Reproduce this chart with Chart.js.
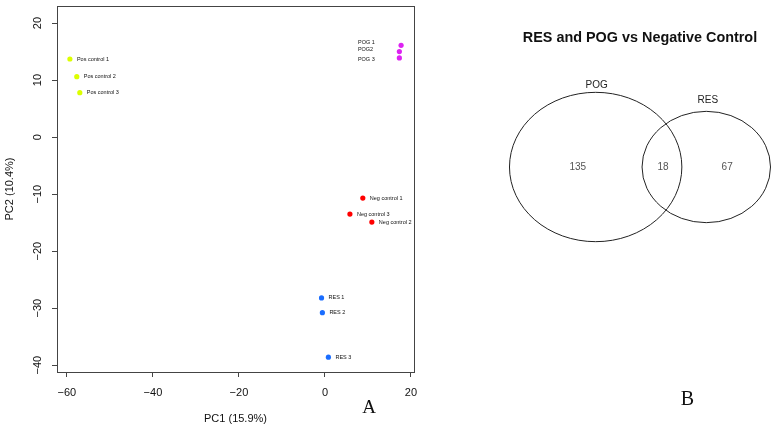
<!DOCTYPE html>
<html>
<head>
<meta charset="utf-8">
<script src="https://cdn.jsdelivr.net/npm/chart.js@4.4.1/dist/chart.umd.min.js"></script>
<style>
  html, body { margin: 0; padding: 0; background: #fff; }
  #wrap { position: relative; width: 775px; height: 430px; }
  #pca { position: absolute; left: 0; top: 0; }
  #venn { position: absolute; left: 460px; top: 0; }
</style>
</head>
<body>
<div id="wrap">
  <canvas id="pca" width="460" height="430"></canvas>
  <canvas id="venn" width="315" height="430"></canvas>
</div>
<script>
// Panel A: PCA scores
const posLabels = ['Pos control 1', 'Pos control 2', 'Pos control 3'];
const posPC1 = [-59.3, -57.7, -57.0];
const posPC2 = [13.7, 10.6, 7.8];

const pogLabels = ['POG 1', 'POG2', 'POG 3'];
const pogPC1 = [17.7, 17.3, 17.3];
const pogPC2 = [16.1, 15.0, 13.9];

const negLabels = ['Neg control 1', 'Neg control 2', 'Neg control 3'];
const negPC1 = [8.8, 10.9, 5.8];
const negPC2 = [-10.7, -14.9, -13.5];

const resLabels = ['RES 1', 'RES 2', 'RES 3'];
const resPC1 = [-0.8, -0.6, 0.8];
const resPC2 = [-28.2, -30.8, -38.6];

const xTicks = [-60, -40, -20, 0, 20];
const yTicks = [-40, -30, -20, -10, 0, 10, 20];

// Panel B: Venn counts
const vennTitle = 'RES and POG vs Negative Control';
const vennSets = ['POG', 'RES'];
const vennCounts = [135, 18, 67];  // POG only, both, RES only

Chart.defaults.font.family = '"Liberation Sans", Arial, sans-serif';
Chart.defaults.color = '#111';

const fmt = v => v < 0 ? '\u2212' + Math.abs(v) : String(v);

function group(names, xs, ys, color, offsets) {
  return {
    data: xs.map((x, i) => ({ x: x, y: ys[i] })),
    pointNames: names,
    labelOffsets: offsets,
    backgroundColor: color,
    pointRadius: 2.6,
    pointBorderWidth: 0
  };
}

// sample names next to each point
const pointLabels = {
  id: 'pointLabels',
  afterDatasetsDraw(chart) {
    const ctx = chart.ctx;
    ctx.save();
    ctx.font = '5.5px "Liberation Sans", Arial, sans-serif';
    ctx.fillStyle = '#111';
    ctx.textBaseline = 'middle';
    chart.data.datasets.forEach((ds, i) => {
      chart.getDatasetMeta(i).data.forEach((pt, j) => {
        const off = (ds.labelOffsets && ds.labelOffsets[j]) || [7, 0];
        ctx.fillText(ds.pointNames[j], pt.x + off[0], pt.y + off[1]);
      });
    });
    ctx.restore();
  }
};

// R-style box, rotated y tick labels and panel letter
const frame = {
  id: 'frame',
  afterDraw(chart) {
    const { ctx, chartArea: a, scales: { y } } = chart;
    ctx.save();
    ctx.strokeStyle = '#444';
    ctx.lineWidth = 1;
    ctx.strokeRect(Math.round(a.left) + 0.5, Math.round(a.top) + 0.5,
                   Math.round(a.right - a.left), Math.round(a.bottom - a.top));
    ctx.fillStyle = '#111';
    ctx.font = '11px "Liberation Sans", Arial, sans-serif';
    ctx.textAlign = 'center';
    ctx.textBaseline = 'middle';
    y.ticks.forEach(t => {
      ctx.save();
      ctx.translate(a.left - 19.5, y.getPixelForValue(t.value));
      ctx.rotate(-Math.PI / 2);
      ctx.fillText(fmt(t.value), 0, 0);
      ctx.restore();
    });
    ctx.font = '19px "Liberation Serif", "Times New Roman", serif';
    ctx.fillText('A', 369, 408);
    ctx.restore();
  }
};

const tickGrid = { display: true, drawOnChartArea: false, drawTicks: true, tickLength: 5, color: '#444' };

new Chart(document.getElementById('pca'), {
  type: 'scatter',
  data: {
    datasets: [
      group(posLabels, posPC1, posPC2, '#dcff00'),
      group(pogLabels, pogPC1, pogPC2, '#dd22f2', [[-43, -2.6], [-41.5, -2.4], [-41.5, 1.7]]),
      group(negLabels, negPC1, negPC2, '#ff0000'),
      group(resLabels, resPC1, resPC2, '#1a6dff')
    ]
  },
  options: {
    responsive: false,
    animation: false,
    layout: { padding: { top: 6, right: 46, bottom: 0, left: 0 } },
    plugins: { legend: { display: false }, tooltip: { enabled: false } },
    scales: {
      x: {
        type: 'linear', min: -62.3, max: 20.7,
        afterFit: s => { s.height = 58; },
        afterBuildTicks: s => { s.ticks = xTicks.map(v => ({ value: v })); },
        grid: tickGrid,
        border: { display: false },
        ticks: { callback: v => fmt(v), color: '#111', font: { size: 11 }, padding: 9, maxRotation: 0, autoSkip: false },
        title: { display: true, text: 'PC1 (15.9%)', color: '#111', font: { size: 11 } }
      },
      y: {
        type: 'linear', min: -41.2, max: 23.0,
        afterFit: s => { s.width = 57; },
        afterBuildTicks: s => { s.ticks = yTicks.map(v => ({ value: v })); },
        grid: tickGrid,
        border: { display: false },
        ticks: { display: false },
        title: { display: true, text: 'PC2 (10.4%)', color: '#111', font: { size: 11 }, padding: { top: 3.5 } }
      }
    }
  },
  plugins: [frame, pointLabels]
});

// ---- Venn: area-proportional circles, overlap solved from the counts ----
function lensArea(r1, r2, d) {
  if (d >= r1 + r2) return 0;
  if (d <= Math.abs(r1 - r2)) return Math.PI * Math.min(r1, r2) ** 2;
  const a1 = Math.acos((d * d + r1 * r1 - r2 * r2) / (2 * d * r1));
  const a2 = Math.acos((d * d + r2 * r2 - r1 * r1) / (2 * d * r2));
  const k = Math.sqrt((-d + r1 + r2) * (d + r1 - r2) * (d - r1 + r2) * (d + r1 + r2));
  return r1 * r1 * a1 + r2 * r2 * a2 - 0.5 * k;
}
const rPog = Math.sqrt((vennCounts[0] + vennCounts[1]) / Math.PI);
const rRes = Math.sqrt((vennCounts[2] + vennCounts[1]) / Math.PI);
let lo = Math.abs(rPog - rRes), hi = rPog + rRes;
for (let i = 0; i < 60; i++) {
  const mid = (lo + hi) / 2;
  if (lensArea(rPog, rRes, mid) > vennCounts[1]) lo = mid; else hi = mid;
}
const dist = (lo + hi) / 2;

const xUnit = 12.35, yUnit = 10.7;   // px per unit (R stretched the circles)
const xMid = (dist + rRes - rPog) / 2;

const vennDraw = {
  id: 'vennDraw',
  afterDatasetsDraw(chart) {
    const { ctx, scales: { x, y } } = chart;
    const pts = chart.data.datasets[0].data;
    const radii = [rPog, rRes];
    const e = pts.map((p, i) => ({
      cx: x.getPixelForValue(p.x),
      cy: y.getPixelForValue(p.y),
      rx: x.getPixelForValue(p.x + radii[i]) - x.getPixelForValue(p.x),
      ry: y.getPixelForValue(p.y) - y.getPixelForValue(p.y + radii[i])
    }));
    ctx.save();
    ctx.strokeStyle = '#222';
    ctx.lineWidth = 1;
    e.forEach(o => {
      ctx.beginPath();
      ctx.ellipse(o.cx, o.cy, o.rx, o.ry, 0, 0, Math.PI * 2);
      ctx.stroke();
    });

    ctx.textAlign = 'center';
    ctx.textBaseline = 'middle';
    ctx.fillStyle = '#111';
    ctx.font = 'bold 14.4px "Liberation Sans", Arial, sans-serif';
    ctx.fillText(vennTitle, (e[0].cx - e[0].rx + e[1].cx + e[1].rx) / 2, 38);

    ctx.font = '10px "Liberation Sans", Arial, sans-serif';
    ctx.fillStyle = '#222';
    const lift = [7, 11];
    vennSets.forEach((s, i) => ctx.fillText(s, e[i].cx + (i ? 1.5 : 1), e[i].cy - e[i].ry - lift[i]));

    ctx.fillStyle = '#555';
    const pogL = e[0].cx - e[0].rx, pogR = e[0].cx + e[0].rx;
    const resL = e[1].cx - e[1].rx, resR = e[1].cx + e[1].rx;
    const cy = (e[0].cy + e[1].cy) / 2;
    ctx.fillText(String(vennCounts[0]), (pogL + resL) / 2 + 2, cy);
    ctx.fillText(String(vennCounts[1]), (resL + pogR) / 2 + 1, cy);
    ctx.fillText(String(vennCounts[2]), (pogR + resR) / 2 + 1, cy);

    ctx.fillStyle = '#111';
    ctx.font = '20px "Liberation Serif", "Times New Roman", serif';
    ctx.fillText('B', 227.5, 400);
    ctx.restore();
  }
};

new Chart(document.getElementById('venn'), {
  type: 'scatter',
  data: {
    datasets: [{ data: [{ x: 0, y: 0 }, { x: dist, y: 0 }], pointRadius: 0 }]
  },
  options: {
    responsive: false,
    animation: false,
    layout: { padding: 0 },
    plugins: { legend: { display: false }, tooltip: { enabled: false } },
    scales: {
      x: { type: 'linear', display: false, min: xMid - 180 / xUnit, max: xMid + 135 / xUnit },
      y: { type: 'linear', display: false, min: -(430 - 167) / yUnit, max: 167 / yUnit }
    }
  },
  plugins: [vennDraw]
});
</script>
</body>
</html>
